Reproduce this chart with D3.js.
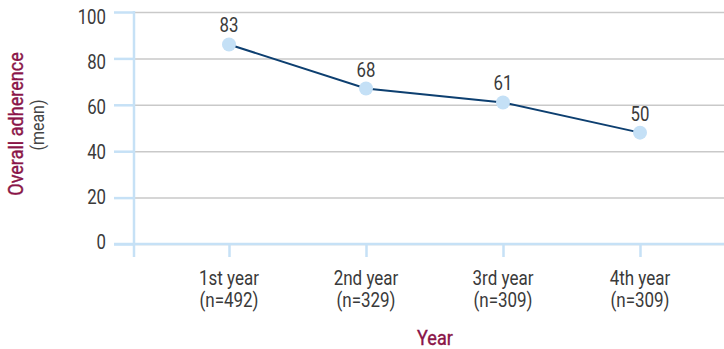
<!DOCTYPE html>
<html>
<head>
<meta charset="utf-8">
<script src="https://cdn.jsdelivr.net/npm/d3@7"></script>
<style>
body { margin: 0; background: #fff; }
svg { display: block; font-family: "Roboto", "Liberation Sans", sans-serif; }
</style>
</head>
<body>
<svg width="724" height="349"></svg>
<script>
// values
var years = ["1st year", "2nd year", "3rd year", "4th year"];
var counts = ["(n=492)", "(n=329)", "(n=309)", "(n=309)"];
var plotted = [86, 67, 61, 48];        // where the dots sit
var printed = ["83", "68", "61", "50"]; // what the labels say
var yTicks = [0, 20, 40, 60, 80, 100];

var svg = d3.select('svg');
var width = +svg.attr('width');

var xscale = d3.scalePoint().domain(years).range([229, 640]);
var yscale = d3.scaleLinear().domain([0, 100]).range([244, 12]);
// the tick numbers in the original sit a little off their gridlines
var ylabel = d3.scaleLinear().domain([0, 100]).range([241.5, 17]);

var axisBlue = '#c6e1f6';
var ink = '#3a3a3a';
var maroon = '#8a1548';

// no condensed face installed, so squeeze text sideways
function squeeze(sel, k) {
	sel.each(function() {
		var t = d3.select(this);
		var x = +t.attr('x') || 0, y = +t.attr('y') || 0;
		var tr = t.attr('transform') || '';
		t.attr('x', 0).attr('y', 0)
			.attr('transform', tr + ' translate(' + x + ',' + y + ') scale(' + k + ',1)');
	});
}

// grid
var grid = svg.append('g').attr('transform', 'translate(134,0)')
	.call(d3.axisLeft(yscale).tickValues(yTicks).tickSize(-(width - 134)).tickFormat(''));
grid.select('.domain').remove();
grid.selectAll('line').attr('stroke', '#c9c9c9').attr('stroke-width', 1.5);

// y axis
var yaxis = svg.append('g').attr('transform', 'translate(134,0)')
	.call(d3.axisLeft(yscale).tickValues(yTicks).tickSize(20).tickFormat(''));
yaxis.select('.domain').remove();
yaxis.selectAll('line').attr('stroke', axisBlue).attr('stroke-width', 2.5);
svg.append('line').attr('x1', 134).attr('x2', 134).attr('y1', yscale(100) - 1).attr('y2', 257)
	.attr('stroke', axisBlue).attr('stroke-width', 2.5);

var yl = svg.append('g').selectAll('text').data(yTicks).enter().append('text')
	.attr('x', 106)
	.attr('y', d => ylabel(d))
	.attr('dy', '0.36em')
	.attr('text-anchor', 'end')
	.attr('fill', ink)
	.style('font-size', '20px')
	.text(d => d);
squeeze(yl, 0.84);

// x axis
var xaxis = svg.append('g').attr('transform', 'translate(0,' + yscale(0) + ')')
	.call(d3.axisBottom(xscale).tickSize(13).tickFormat(''));
xaxis.select('.domain').remove();
xaxis.selectAll('line').attr('stroke', axisBlue).attr('stroke-width', 2.5);
svg.append('line').attr('x1', 114).attr('x2', width).attr('y1', yscale(0)).attr('y2', yscale(0))
	.attr('stroke', axisBlue).attr('stroke-width', 2.5);

var xl1 = svg.append('g').selectAll('text').data(years).enter().append('text')
	.attr('x', d => xscale(d)).attr('y', 285)
	.attr('text-anchor', 'middle').attr('fill', ink)
	.style('font-size', '20px')
	.text(d => d);
var xl2 = svg.append('g').selectAll('text').data(years).enter().append('text')
	.attr('x', d => xscale(d)).attr('y', 307)
	.attr('text-anchor', 'middle').attr('fill', ink)
	.style('font-size', '20px')
	.text((d, i) => counts[i]);
squeeze(xl1, 0.85);
squeeze(xl2, 0.85);

// line + dots
var line = d3.line().x((d, i) => xscale(years[i])).y(d => yscale(d));
svg.append('path').datum(plotted).attr('d', line)
	.attr('fill', 'none').attr('stroke', '#0d3f70').attr('stroke-width', 2);

svg.append('g').selectAll('circle').data(plotted).enter().append('circle')
	.attr('cx', (d, i) => xscale(years[i]))
	.attr('cy', d => yscale(d))
	.attr('r', 7)
	.attr('fill', '#c4e0f6');

var vl = svg.append('g').selectAll('text').data(plotted).enter().append('text')
	.attr('x', (d, i) => xscale(years[i]))
	.attr('y', d => yscale(d) - 12)
	.attr('text-anchor', 'middle')
	.attr('fill', ink)
	.style('font-size', '20px')
	.text((d, i) => printed[i]);
squeeze(vl, 0.84);

// titles
var xt = svg.append('text').attr('x', 435).attr('y', 345).attr('text-anchor', 'middle')
	.attr('fill', maroon).style('font-size', '21px').style('stroke', maroon).style('stroke-width', 0.4)
	.text('Year');
squeeze(xt, 0.86);

var yt = svg.append('text').attr('transform', 'translate(23,124) rotate(-90)').attr('text-anchor', 'middle')
	.attr('fill', maroon).style('font-size', '21px').style('stroke', maroon).style('stroke-width', 0.4)
	.text('Overall adherence');
squeeze(yt, 0.86);
var ym = svg.append('text').attr('transform', 'translate(44,125) rotate(-90)').attr('text-anchor', 'middle')
	.attr('fill', '#444').style('font-size', '19px').text('(mean)');
squeeze(ym, 0.84);
</script>
</body>
</html>
